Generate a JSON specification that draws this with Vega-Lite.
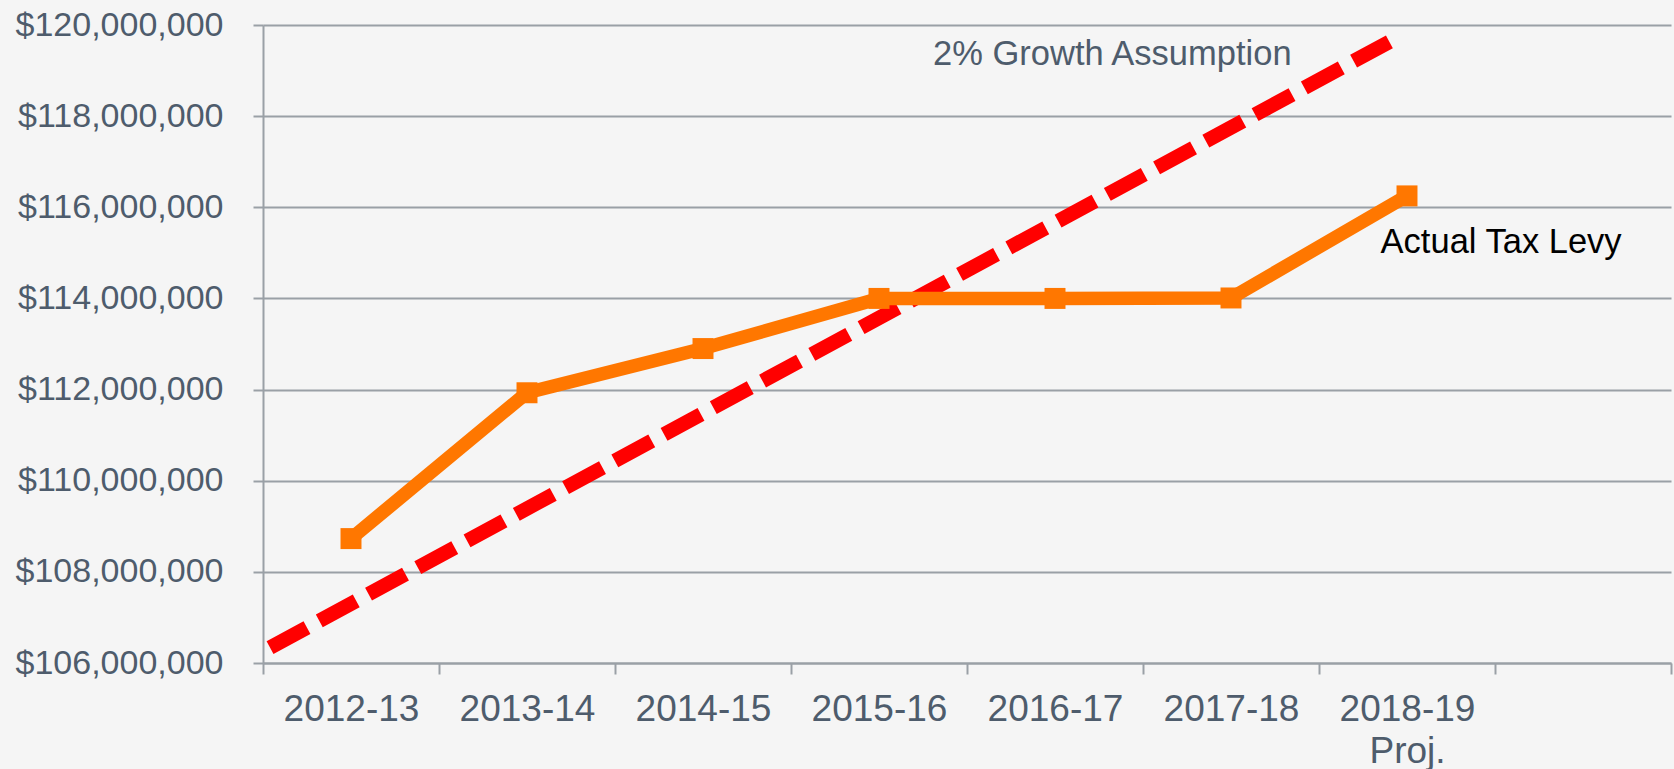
{
  "$schema": "https://vega.github.io/schema/vega-lite/v6.json",
  "width": 1408,
  "height": 638,
  "autosize": {"type": "none"},
  "padding": {"left": 263, "top": 25, "right": 3, "bottom": 106},
  "background": "#f5f5f5",
  "config": {
    "view": {"stroke": null},
    "font": "Liberation Sans"
  },
  "datasets": {
    "levy": [
      {"year": "2012-13", "pos": 0.5, "levy": 108730000},
      {"year": "2013-14", "pos": 1.5, "levy": 111930000},
      {"year": "2014-15", "pos": 2.5, "levy": 112900000},
      {"year": "2015-16", "pos": 3.5, "levy": 114000000},
      {"year": "2016-17", "pos": 4.5, "levy": 114000000},
      {"year": "2017-18", "pos": 5.5, "levy": 114010000},
      {"year": "2018-19 Proj.", "pos": 6.5, "levy": 116250000}
    ],
    "growth": [
      {"pos": 0.04, "levy": 106340000},
      {"pos": 6.4, "levy": 119630000}
    ],
    "labels": [
      {"text": "2% Growth Assumption", "pos": 3.807, "levy": 119120000, "kind": "growth"},
      {"text": "Actual Tax Levy", "pos": 6.35, "levy": 114990000, "kind": "actual"}
    ]
  },
  "layer": [
    {
      "data": {"name": "growth"},
      "mark": {"type": "line", "color": "#ff0000", "strokeWidth": 14.5, "strokeDash": [42, 14], "strokeCap": "butt"},
      "encoding": {
        "x": {
          "field": "pos", "type": "quantitative",
          "scale": {"domain": [0, 8], "nice": false, "zero": false},
          "axis": {
            "title": null,
            "values": [0, 0.5, 1, 1.5, 2, 2.5, 3, 3.5, 4, 4.5, 5, 5.5, 6, 6.5, 7, 8],
            "labelExpr": "datum.value===0.5?'2012-13':datum.value===1.5?'2013-14':datum.value===2.5?'2014-15':datum.value===3.5?'2015-16':datum.value===4.5?'2016-17':datum.value===5.5?'2017-18':datum.value===6.5?['2018-19','Proj.']:''",
            "labelFontSize": 37,
            "labelColor": "#4e5c6c",
            "labelLineHeight": 42,
            "labelPadding": 17,
            "labelOverlap": false,
            "labelFlush": false,
            "labelBound": false,
            "labelLimit": 0,
            "labelBaseline": "top",
            "tickSize": 11,
            "tickWidth": 2,
            "tickColor": "#9aa0a6",
            "tickOpacity": {"condition": {"test": "datum.value % 1 !== 0", "value": 0}, "value": 1},
            "domainColor": "#9aa0a6",
            "domainWidth": 2,
            "grid": false
          }
        },
        "y": {
          "field": "levy", "type": "quantitative",
          "scale": {"domain": [106000000, 120000000], "nice": false, "zero": false},
          "axis": {
            "title": null,
            "values": [106000000, 108000000, 110000000, 112000000, 114000000, 116000000, 118000000, 120000000],
            "format": "$,.0f",
            "labelFontSize": 34,
            "labelLimit": 0,
            "labelColor": "#4e5c6c",
            "labelPadding": 30,
            "tickSize": 10,
            "tickWidth": 2,
            "tickColor": "#9aa0a6",
            "domainColor": "#9aa0a6",
            "domainWidth": 2,
            "grid": true,
            "gridColor": "#9aa0a6",
            "gridWidth": 2
          }
        }
      }
    },
    {
      "data": {"name": "levy"},
      "mark": {"type": "line", "color": "#ff7700", "strokeWidth": 13.5, "point": {"shape": "square", "size": 440, "filled": true, "color": "#ff7700", "opacity": 1}},
      "encoding": {
        "x": {"field": "pos", "type": "quantitative"},
        "y": {"field": "levy", "type": "quantitative"}
      }
    },
    {
      "data": {"name": "labels"},
      "mark": {"type": "text", "align": "left", "baseline": "alphabetic"},
      "encoding": {
        "x": {"field": "pos", "type": "quantitative"},
        "y": {"field": "levy", "type": "quantitative"},
        "text": {"field": "text"},
        "color": {"field": "kind", "type": "nominal", "scale": {"domain": ["growth", "actual"], "range": ["#4e5c6c", "#000000"]}, "legend": null},
        "size": {"field": "kind", "type": "nominal", "scale": {"domain": ["growth", "actual"], "range": [34.5, 34.5]}, "legend": null}
      }
    }
  ]
}
